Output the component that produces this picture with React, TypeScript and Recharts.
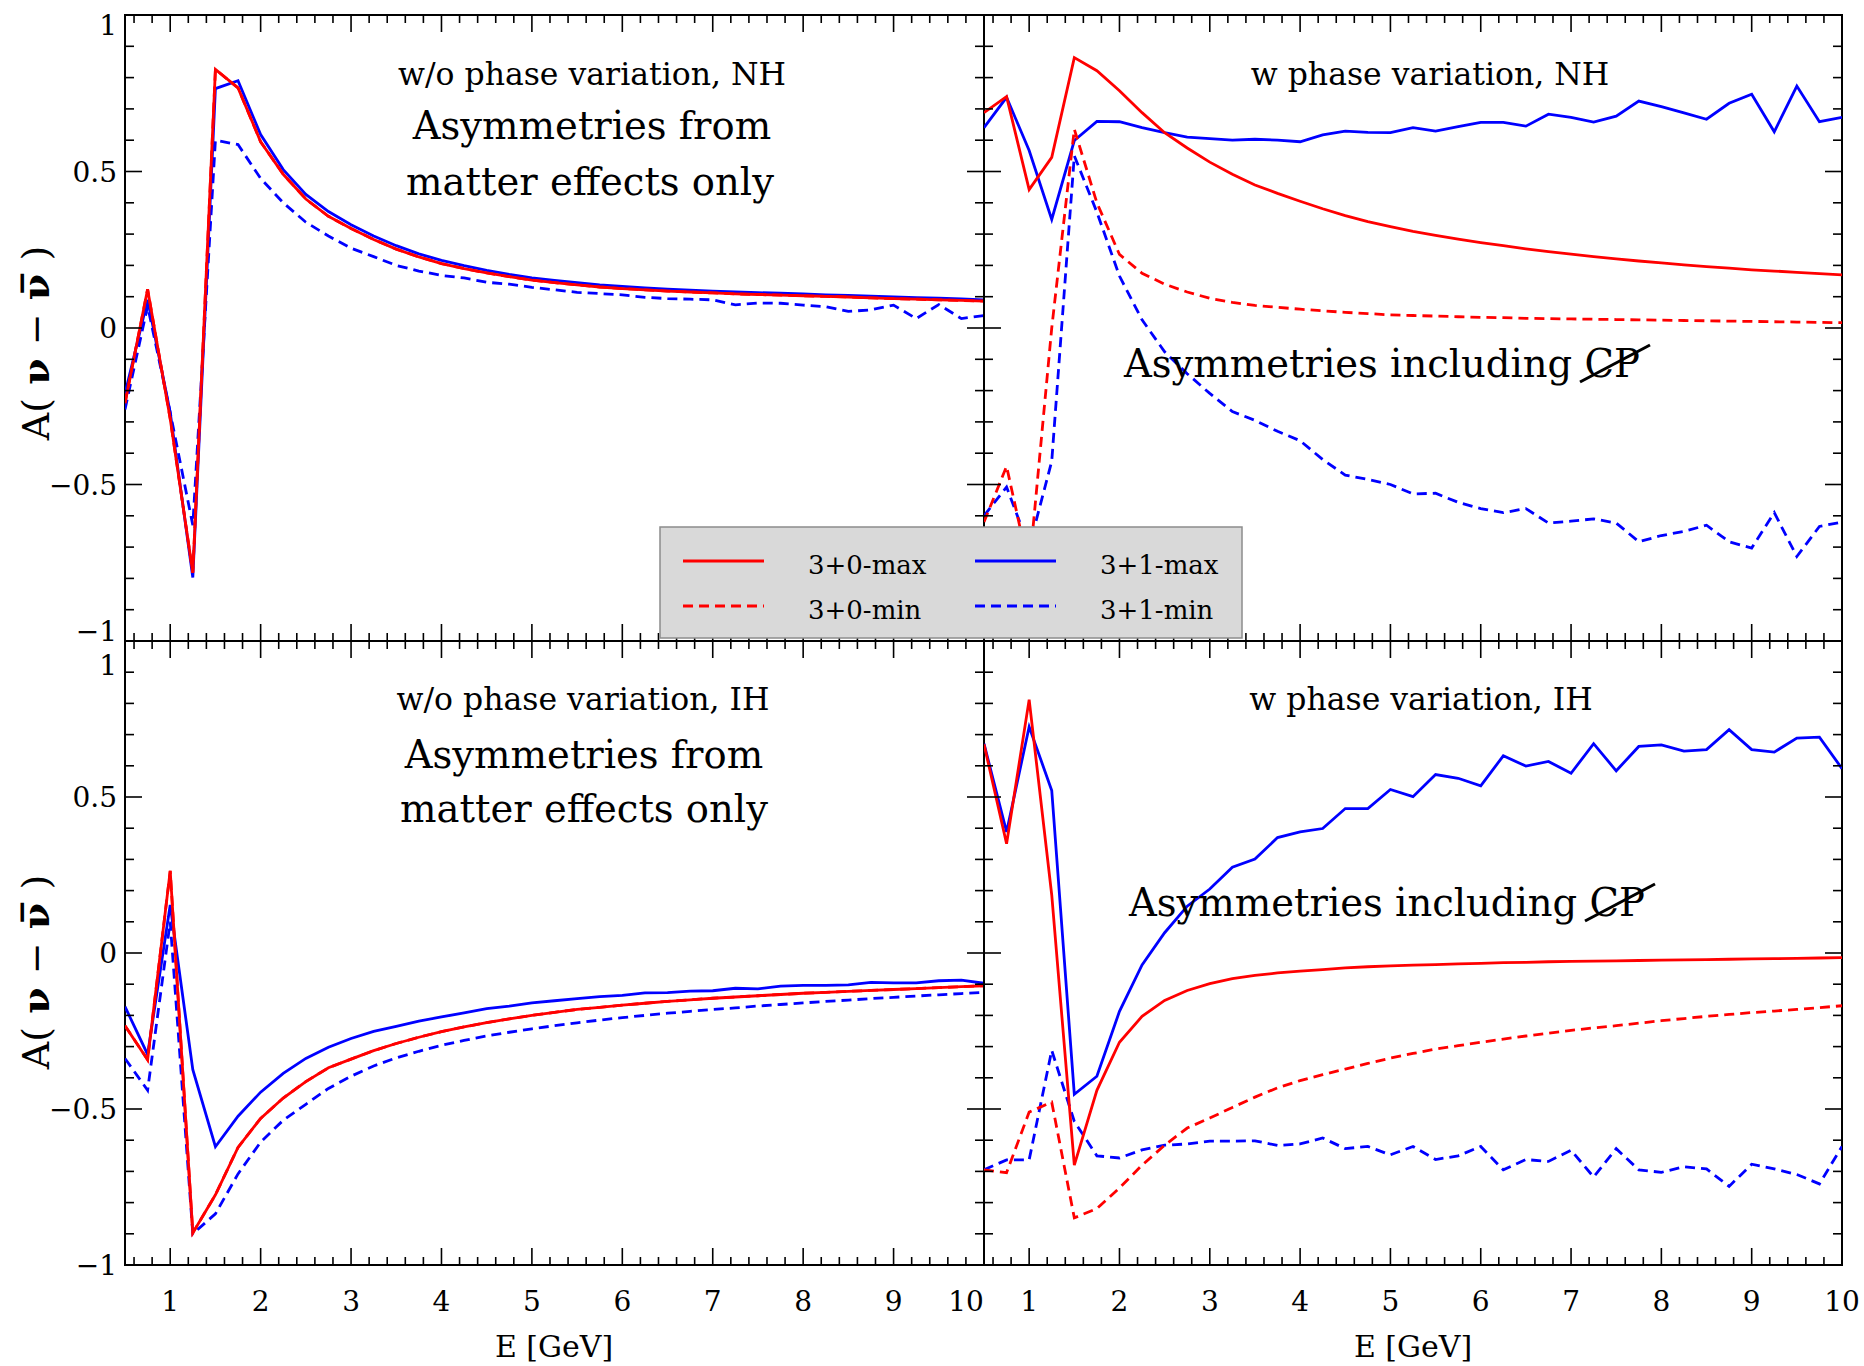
import { LineChart, Line, XAxis, YAxis, ReferenceArea } from "recharts";

const FONT = '"DejaVu Serif", serif';
const RED = "#ff0000";
const BLUE = "#0000ff";
const DASH = "10 6";
const LW = 2.8;

// neutrino energy grid [GeV]
const energy = [
  0.5, 0.75, 1.0, 1.25, 1.5, 1.75, 2.0, 2.25, 2.5, 2.75, 3.0, 3.25, 3.5, 3.75, 4.0, 4.25, 4.5, 4.75, 5.0, 5.25,
  5.5, 5.75, 6.0, 6.25, 6.5, 6.75, 7.0, 7.25, 7.5, 7.75, 8.0, 8.25, 8.5, 8.75, 9.0, 9.25, 9.5, 9.75, 10.0,
];

// w/o phase variation, NH
const nhFixed30 = [
  -0.24, 0.124, -0.29, -0.782, 0.826, 0.767, 0.595, 0.491, 0.412, 0.357, 0.318, 0.283, 0.252, 0.227, 0.206, 0.19, 0.176, 0.164, 0.153, 0.145,
  0.138, 0.131, 0.126, 0.122, 0.118, 0.115, 0.112, 0.109, 0.107, 0.105, 0.103, 0.101, 0.099, 0.096, 0.094, 0.092, 0.09, 0.088, 0.086,
];
const nhFixed31Max = [
  -0.21, 0.09, -0.27, -0.797, 0.765, 0.79, 0.618, 0.506, 0.427, 0.372, 0.33, 0.294, 0.263, 0.237, 0.216, 0.199, 0.184, 0.171, 0.16, 0.152,
  0.145, 0.138, 0.133, 0.128, 0.124, 0.121, 0.118, 0.115, 0.113, 0.111, 0.109, 0.106, 0.104, 0.102, 0.099, 0.097, 0.095, 0.093, 0.09,
];
const nhFixed31Min = [
  -0.26, 0.07, -0.27, -0.63, 0.6, 0.586, 0.478, 0.4, 0.338, 0.294, 0.255, 0.228, 0.2, 0.182, 0.168, 0.16, 0.146, 0.14, 0.13, 0.122,
  0.114, 0.11, 0.106, 0.098, 0.094, 0.092, 0.09, 0.074, 0.08, 0.079, 0.073, 0.068, 0.053, 0.058, 0.073, 0.03, 0.075, 0.03, 0.04,
];

// w phase variation, NH
const nhVar30Max = [
  0.688, 0.739, 0.442, 0.545, 0.864, 0.822, 0.758, 0.688, 0.624, 0.575, 0.53, 0.491, 0.457, 0.43, 0.405, 0.381, 0.359, 0.34, 0.324, 0.309,
  0.296, 0.284, 0.273, 0.263, 0.253, 0.244, 0.236, 0.228, 0.221, 0.214, 0.208, 0.202, 0.196, 0.191, 0.186, 0.182, 0.178, 0.174, 0.17,
];
const nhVar30Min = [
  -0.62, -0.442, -0.77, 0.0, 0.635, 0.4, 0.235, 0.175, 0.14, 0.115, 0.095, 0.082, 0.072, 0.066, 0.06, 0.055, 0.05, 0.046, 0.042, 0.04,
  0.038, 0.036, 0.034, 0.033, 0.031, 0.03, 0.029, 0.028, 0.027, 0.026, 0.025, 0.024, 0.023, 0.022, 0.021, 0.02, 0.019, 0.018, 0.017,
];
const nhVar31Max = [
  0.64, 0.737, 0.567, 0.347, 0.599, 0.66, 0.659, 0.64, 0.624, 0.61, 0.605, 0.6, 0.603, 0.6, 0.595, 0.617, 0.629, 0.625, 0.624, 0.64,
  0.629, 0.643, 0.657, 0.657, 0.645, 0.683, 0.673, 0.658, 0.677, 0.725, 0.707, 0.687, 0.667, 0.718, 0.747, 0.627, 0.773, 0.659, 0.673,
];
const nhVar31Min = [
  -0.6, -0.508, -0.7, -0.426, 0.55, 0.37, 0.166, 0.026, -0.076, -0.146, -0.209, -0.267, -0.295, -0.33, -0.36, -0.42, -0.47, -0.484, -0.5, -0.53,
  -0.528, -0.557, -0.577, -0.59, -0.577, -0.623, -0.617, -0.61, -0.623, -0.683, -0.663, -0.65, -0.63, -0.683, -0.703, -0.59, -0.73, -0.634, -0.62,
];

// w/o phase variation, IH
const ihFixed30 = [
  -0.233, -0.342, 0.263, -0.897, -0.775, -0.623, -0.53, -0.465, -0.412, -0.368, -0.34, -0.313, -0.29, -0.27, -0.252, -0.237, -0.223, -0.211, -0.2, -0.19,
  -0.181, -0.174, -0.167, -0.161, -0.155, -0.15, -0.145, -0.141, -0.137, -0.133, -0.129, -0.126, -0.123, -0.12, -0.117, -0.114, -0.111, -0.108, -0.105,
];
const ihFixed31Max = [
  -0.172, -0.325, 0.154, -0.374, -0.621, -0.523, -0.446, -0.386, -0.338, -0.302, -0.274, -0.251, -0.235, -0.218, -0.205, -0.192, -0.178, -0.17, -0.16, -0.153,
  -0.146, -0.14, -0.136, -0.128, -0.127, -0.122, -0.121, -0.113, -0.115, -0.106, -0.104, -0.104, -0.102, -0.094, -0.096, -0.096, -0.089, -0.087, -0.097,
];
const ihFixed31Min = [
  -0.338, -0.44, 0.1, -0.9, -0.836, -0.708, -0.606, -0.536, -0.485, -0.434, -0.395, -0.362, -0.336, -0.315, -0.296, -0.28, -0.266, -0.254, -0.243, -0.233,
  -0.224, -0.215, -0.207, -0.2, -0.193, -0.187, -0.181, -0.176, -0.17, -0.165, -0.16, -0.155, -0.151, -0.146, -0.142, -0.138, -0.134, -0.13, -0.126,
];

// w phase variation, IH
const ihVar30Max = [
  0.669, 0.35, 0.812, 0.186, -0.68, -0.44, -0.286, -0.203, -0.152, -0.12, -0.098, -0.082, -0.072, -0.064, -0.058, -0.053, -0.048, -0.044, -0.041, -0.039,
  -0.037, -0.035, -0.033, -0.031, -0.03, -0.028, -0.027, -0.026, -0.025, -0.024, -0.023, -0.022, -0.021, -0.02, -0.019, -0.018, -0.017, -0.016, -0.015,
];
const ihVar30Min = [
  -0.695, -0.704, -0.51, -0.478, -0.849, -0.819, -0.753, -0.68, -0.616, -0.561, -0.529, -0.495, -0.462, -0.432, -0.409, -0.39, -0.372, -0.354, -0.337, -0.322,
  -0.308, -0.297, -0.286, -0.276, -0.266, -0.257, -0.248, -0.24, -0.233, -0.225, -0.217, -0.21, -0.203, -0.197, -0.191, -0.186, -0.181, -0.175, -0.169,
];
const ihVar31Max = [
  0.671, 0.388, 0.725, 0.521, -0.453, -0.395, -0.187, -0.038, 0.065, 0.15, 0.205, 0.275, 0.301, 0.37, 0.388, 0.399, 0.463, 0.463, 0.524, 0.501,
  0.572, 0.56, 0.536, 0.632, 0.599, 0.614, 0.576, 0.671, 0.584, 0.662, 0.667, 0.647, 0.652, 0.716, 0.652, 0.644, 0.689, 0.692, 0.591,
];
const ihVar31Min = [
  -0.695, -0.663, -0.663, -0.312, -0.54, -0.65, -0.657, -0.631, -0.616, -0.612, -0.603, -0.603, -0.602, -0.617, -0.612, -0.593, -0.627, -0.62, -0.647, -0.62,
  -0.662, -0.65, -0.62, -0.695, -0.662, -0.668, -0.632, -0.718, -0.627, -0.695, -0.703, -0.685, -0.692, -0.748, -0.677, -0.692, -0.71, -0.74, -0.62,
];

const xMajor = [1, 2, 3, 4, 5, 6, 7, 8, 9, 10];
const xMinorTicks = Array.from({ length: 48 }, (_, i) => Number((0.6 + 0.2 * i).toFixed(1)));
const yMajorLabels: Record<string, string> = { "1": "1", "0.5": "0.5", "0": "0", "-0.5": "\u22120.5", "-1": "\u22121" };
const yTicks = Array.from({ length: 21 }, (_, i) => Number((-1 + 0.1 * i).toFixed(1)));

const legendItems = [
  { label: "3+0-max", color: RED, dashed: false },
  { label: "3+0-min", color: RED, dashed: true },
  { label: "3+1-max", color: BLUE, dashed: false },
  { label: "3+1-min", color: BLUE, dashed: true },
];

const W = 1864;
const H = 1366;

type Box = { left: number; top: number; width: number; height: number };

type PanelProps = {
  box: Box;
  rMax: number[];
  rMin: number[];
  bMax: number[];
  bMin: number[];
  showY: boolean;
  showX: boolean;
  yShift: Record<string, number>;
  xShift: Record<string, number>;
};

function Panel({ box, rMax, rMin, bMax, bMin, showY, showX, yShift, xShift }: PanelProps) {
  const rows = energy.map((E, i) => ({ E, rMax: rMax[i], rMin: rMin[i], bMax: bMax[i], bMin: bMin[i] }));
  const { left, top, width, height } = box;

  // ticks point inwards, mirrored on the opposite side of the frame
  const xTick = (p: any) => {
    const v = Number(p.payload.value);
    const major = Math.abs(v - Math.round(v)) < 1e-6;
    const len = major ? 17 : 8;
    const n = Math.round(v);
    return (
      <g>
        <line x1={p.x} x2={p.x} y1={p.y} y2={p.y - len} stroke="#000" strokeWidth={1.6} />
        <line x1={p.x} x2={p.x} y1={p.y - height} y2={p.y - height + len} stroke="#000" strokeWidth={1.6} />
        {showX && major && xMajor.includes(n) && (
          <text x={p.x + (xShift[String(n)] ?? 0)} y={p.y + 46} textAnchor="middle" fontSize={28} fontFamily={FONT} fill="#000">
            {n}
          </text>
        )}
      </g>
    );
  };

  const yTick = (p: any) => {
    const v = Number(p.payload.value);
    const key = String(v);
    const major = key in yMajorLabels;
    const len = major ? 17 : 9;
    return (
      <g>
        <line x1={p.x} x2={p.x + len} y1={p.y} y2={p.y} stroke="#000" strokeWidth={1.6} />
        <line x1={p.x + width} x2={p.x + width - len} y1={p.y} y2={p.y} stroke="#000" strokeWidth={1.6} />
        {showY && major && (
          <text x={p.x - 8} y={p.y + (yShift[key] ?? 0)} dy="0.36em" textAnchor="end" fontSize={28} fontFamily={FONT} fill="#000">
            {yMajorLabels[key]}
          </text>
        )}
      </g>
    );
  };

  return (
    <div style={{ position: "absolute", left: 0, top: 0 }}>
      <LineChart
        width={W}
        height={H}
        data={rows}
        margin={{ top, left: left - 1, right: W - left - width, bottom: H - top - height - 1 }}
      >
        <XAxis
          dataKey="E"
          type="number"
          domain={[0.5, 10]}
          ticks={xMinorTicks}
          interval={0}
          height={1}
          tickSize={0}
          tickMargin={0}
          tickLine={false}
          axisLine={false}
          allowDataOverflow
          tick={xTick}
        />
        <YAxis
          type="number"
          domain={[-1, 1]}
          ticks={yTicks}
          interval={0}
          width={1}
          tickSize={0}
          tickMargin={0}
          tickLine={false}
          axisLine={false}
          allowDataOverflow
          tick={yTick}
        />
        <Line type="linear" dataKey="bMin" stroke={BLUE} strokeWidth={LW} strokeDasharray={DASH} dot={false} isAnimationActive={false} />
        <Line type="linear" dataKey="bMax" stroke={BLUE} strokeWidth={LW} dot={false} isAnimationActive={false} />
        <Line type="linear" dataKey="rMin" stroke={RED} strokeWidth={LW} strokeDasharray={DASH} dot={false} isAnimationActive={false} />
        <Line type="linear" dataKey="rMax" stroke={RED} strokeWidth={LW} dot={false} isAnimationActive={false} />
        <ReferenceArea x1={0.5} x2={10} y1={-1} y2={1} fill="none" stroke="#000" strokeWidth={2} />
      </LineChart>
    </div>
  );
}

const TL: Box = { left: 125, top: 15, width: 859, height: 626 };
const TR: Box = { left: 984, top: 15, width: 858, height: 626 };
const BL: Box = { left: 125, top: 641, width: 859, height: 624 };
const BR: Box = { left: 984, top: 641, width: 858, height: 624 };

function YTitle({ x, y }: { x: number; y: number }) {
  return (
    <text x={x} y={y} transform={`rotate(-90 ${x} ${y})`} textAnchor="middle" fontSize={38} fontFamily={FONT} fill="#000">
      A(
      <tspan fontWeight="bold"> ν </tspan>
      −
      <tspan fontWeight="bold"> ν&#x0305; </tspan>
      )
    </text>
  );
}

function CpText({ x, y, sx, sy }: { x: number; y: number; sx: number; sy: number }) {
  return (
    <g>
      <text x={x} y={y} fontSize={38.5} fontFamily={FONT} fill="#000">
        Asymmetries including CP
      </text>
      <line x1={sx} y1={sy} x2={sx + 70} y2={sy - 37} stroke="#000" strokeWidth={3} />
    </g>
  );
}

export default function App() {
  const txt = { fontFamily: FONT, fill: "#000", textAnchor: "middle" as const };
  return (
    <div style={{ position: "absolute", left: 0, top: 0, width: W, height: H, background: "#fff", overflow: "hidden" }}>
      <Panel box={TL} rMax={nhFixed30} rMin={nhFixed30} bMax={nhFixed31Max} bMin={nhFixed31Min} showY showX={false} yShift={{ "1": 10, "-1": -10 }} xShift={{}} />
      <Panel box={TR} rMax={nhVar30Max} rMin={nhVar30Min} bMax={nhVar31Max} bMin={nhVar31Min} showY={false} showX={false} yShift={{}} xShift={{}} />
      <Panel box={BL} rMax={ihFixed30} rMin={ihFixed30} bMax={ihFixed31Max} bMin={ihFixed31Min} showY showX yShift={{ "1": 24 }} xShift={{ "10": -18 }} />
      <Panel box={BR} rMax={ihVar30Max} rMin={ihVar30Min} bMax={ihVar31Max} bMin={ihVar31Min} showY={false} showX yShift={{}} xShift={{}} />
      <svg width={W} height={H} style={{ position: "absolute", left: 0, top: 0 }}>
        <text x={592} y={85} fontSize={31.5} {...txt}>w/o phase variation, NH</text>
        <text x={592} y={139} fontSize={38.5} {...txt}>Asymmetries from</text>
        <text x={590} y={195} fontSize={38.5} {...txt}>matter effects only</text>
        <text x={1430} y={85} fontSize={31.5} {...txt}>w phase variation, NH</text>
        <CpText x={1124} y={377} sx={1580} sy={382} />

        <text x={583} y={710} fontSize={31.5} {...txt}>w/o phase variation, IH</text>
        <text x={584} y={768} fontSize={38.5} {...txt}>Asymmetries from</text>
        <text x={584} y={822} fontSize={38.5} {...txt}>matter effects only</text>
        <text x={1421} y={710} fontSize={31.5} {...txt}>w phase variation, IH</text>
        <CpText x={1129} y={916} sx={1585} sy={921} />

        <YTitle x={49} y={343} />
        <YTitle x={49} y={972} />
        <text x={554} y={1357} fontSize={30} {...txt}>E [GeV]</text>
        <text x={1413} y={1357} fontSize={30} {...txt}>E [GeV]</text>

        <rect x={660} y={527} width={582} height={111} fill="#d9d9d9" stroke="#8c8c8c" strokeWidth={1.5} />
        {legendItems.map((item, i) => {
          const lx = i < 2 ? 683 : 975;
          const ly = i % 2 === 0 ? 561 : 606;
          return (
            <g key={item.label}>
              <line x1={lx} x2={lx + 81} y1={ly} y2={ly} stroke={item.color} strokeWidth={LW} strokeDasharray={item.dashed ? DASH : undefined} />
              <text x={lx + 125} y={ly + 13} fontSize={26} fontFamily={FONT} fill="#000">{item.label}</text>
            </g>
          );
        })}
      </svg>
    </div>
  );
}
